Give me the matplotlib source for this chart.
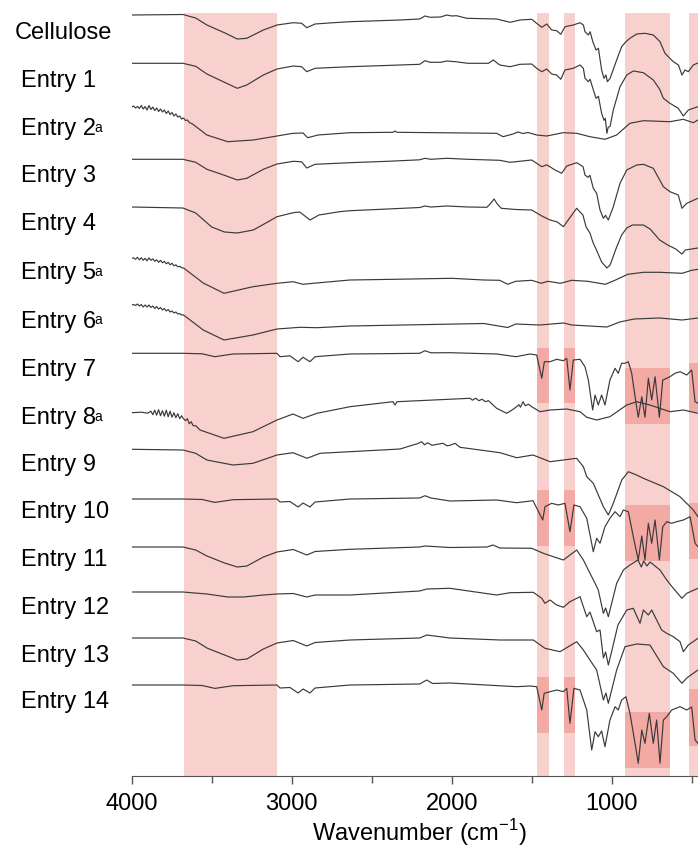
import numpy as np
import matplotlib.pyplot as plt
from matplotlib.patches import Rectangle

plt.rcParams['font.family'] = ['Liberation Sans', 'DejaVu Sans']

## labels of the stacked spectra, top to bottom
labels = ['Cellulose', 'Entry 1', 'Entry 2', 'Entry 3', 'Entry 4', 'Entry 5', 'Entry 6',
          'Entry 7', 'Entry 8', 'Entry 9', 'Entry 10', 'Entry 11', 'Entry 12', 'Entry 13', 'Entry 14']
footnote = [False, False, True, False, False, True, True, False, True, False, False, False, False, False, False]

## vertical stacking offset of each trace (level at 4000 cm-1)
offsets = [15, 63.3, 107, 159.3, 207, 258.3, 305, 353.3, 412.7, 449.3, 499, 547, 592, 638, 685]

## spectra: (wavenumber, relative signal)
cellulose = [(4000, 0), (3680, 0.5), (3600, -3), (3530, -10), (3417, -18), (3340, -24), (3281, -23.3), (3177, -15),
             (3092, -10), (2990, -7.7), (2938, -8.3), (2906, -12.7), (2854, -9), (2740, -7.7), (2636, -6.7),
             (2323, -5), (2200, -4), (2167, -1), (2135, -2.3), (2070, -2), (2030, 0), (2000, -1), (1970, -0.7),
             (1906, -3.3), (1719, -4), (1635, -7.3), (1573, -5), (1500, -4.3), (1469, -8.3), (1437, -12.3),
             (1406, -9), (1375, -15), (1344, -15.7), (1318, -19.3), (1292, -11.7), (1240, -10), (1198, -7.7),
             (1177, -10), (1167, -16.7), (1146, -20), (1135, -16.7), (1118, -26.7), (1098, -35), (1083, -33.3),
             (1063, -55), (1048, -63.3), (1036, -60), (1027, -66.7), (1010, -63.3), (969, -45), (938, -31.7),
             (911, -26.7), (886, -23.3), (844, -19), (792, -18.3), (740, -20), (698, -26.7), (667, -38.3),
             (646, -41.7), (615, -46.7), (583, -50), (561, -60), (542, -55), (521, -56.7), (490, -50),
             (448, -47), (400, -45)]

entry1 = [(4000, 0), (3680, 0), (3600, -3), (3530, -10.7), (3420, -19), (3340, -25), (3281, -21.7), (3177, -11.7),
          (3092, -5.7), (2990, -2.7), (2938, -3.4), (2906, -8.4), (2854, -5), (2636, -3.4), (2323, -1.7),
          (2200, -1), (2167, 2.6), (2135, 1), (2070, 1), (2030, 2.3), (1970, 1.5), (1900, 0), (1770, 0),
          (1740, 3.3), (1700, -1.7), (1635, -3.4), (1573, -1), (1500, -0.7), (1469, -5), (1437, -8.4),
          (1406, -5.7), (1375, -10.7), (1344, -11.7), (1318, -16), (1292, -6.7), (1240, -5), (1198, -1.7),
          (1177, -5), (1167, -15), (1146, -18.4), (1135, -16), (1118, -25), (1098, -35), (1083, -33),
          (1063, -50), (1048, -57), (1040, -55), (1030, -70), (1022, -64), (1010, -63), (990, -46.7),
          (948, -23.4), (906, -11.7), (865, -7.7), (802, -9.4), (740, -16.7), (700, -26), (677, -35),
          (636, -40), (584, -45), (552, -52.7), (521, -46.7), (461, -43.4), (400, -42)]

entry2 = [(4000, 0), (3988, 1), (3976, -1), (3964, 0.5), (3952, -1.5), (3940, 1.5), (3928, -2), (3916, 0.5),
          (3904, -3), (3892, 1.5), (3880, -2.5), (3868, 0), (3856, -3.5), (3844, -1), (3832, -4.5),
          (3820, -2), (3808, -5), (3796, -3), (3784, -6.5), (3772, -4), (3760, -7.5), (3748, -5.5),
          (3736, -9), (3724, -7), (3712, -10), (3700, -9), (3688, -12), (3676, -11), (3664, -13.5),
          (3652, -13), (3640, -15.5), (3620, -17), (3530, -28), (3400, -34.7), (3240, -33), (3092, -29),
          (2992, -26.3), (2929, -26), (2900, -30.7), (2835, -28), (2636, -25.7), (2367, -25.3), (2354, -24),
          (2342, -25.3), (1719, -26.3), (1679, -29.7), (1617, -27), (1586, -25), (1554, -26.5), (1523, -25.5),
          (1469, -28), (1406, -29), (1304, -25.7), (1219, -26.3), (1136, -29.7), (1042, -32.3), (969, -28),
          (886, -16.3), (802, -13.7), (636, -14.7), (552, -12.3), (490, -15.7), (461, -13), (400, -14)]

entry3 = [(4000, 0), (3680, 0), (3600, -3), (3530, -10), (3420, -16), (3340, -20.7), (3281, -19), (3177, -10),
          (3092, -4.7), (2990, -2), (2938, -2.5), (2906, -8.7), (2854, -5), (2636, -3.4), (2400, -2),
          (2200, -0.5), (2167, 1), (2130, 0), (2030, 1), (1900, 0), (1700, -1), (1635, -3), (1500, -0.7),
          (1469, -4), (1437, -7.4), (1406, -5.5), (1354, -10.7), (1313, -14), (1281, -6.7), (1219, -3.4),
          (1179, -7.4), (1167, -15.7), (1148, -18), (1136, -16), (1115, -29), (1094, -34), (1073, -50.7),
          (1052, -59), (1039, -56), (1021, -60.7), (990, -47.4), (948, -24), (906, -10.7), (844, -5.7),
          (802, -5), (740, -9), (677, -27.4), (636, -32.4), (584, -35.7), (561, -49), (531, -44),
          (461, -39), (400, -38)]

entry4 = [(4000, 0), (3680, -1), (3600, -6), (3500, -20), (3420, -25), (3340, -26), (3240, -23), (3150, -15),
          (3092, -9.7), (2990, -5.7), (2950, -5), (2885, -13), (2830, -8), (2700, -4.7), (2636, -3.7),
          (2400, -2), (2200, -0.5), (2167, 1), (2130, 0), (2030, 1), (1900, 0), (1780, -0.3), (1760, 3),
          (1735, 8), (1715, 3), (1690, -1.3), (1600, -2.5), (1500, -3), (1437, -9), (1385, -13), (1340, -15),
          (1302, -19.7), (1219, -1.3), (1180, -8), (1160, -20), (1136, -26), (1118, -35), (1098, -42),
          (1063, -55), (1030, -61), (1010, -58), (969, -40), (938, -28), (906, -21), (870, -18), (802, -18),
          (760, -22), (700, -33), (650, -38), (600, -42), (561, -47), (540, -43), (461, -41), (400, -40)]

entry5 = [(4000, 0), (3988, 0.5), (3976, -1), (3964, 1), (3952, -1.5), (3940, 0.5), (3928, -2), (3916, 0),
          (3904, -2.5), (3892, 0.5), (3880, -2), (3868, -0.5), (3856, -3), (3844, -1.5), (3832, -4),
          (3820, -2), (3808, -4.5), (3796, -3), (3784, -5.5), (3772, -4), (3760, -6.5), (3748, -5),
          (3736, -7.5), (3724, -6.5), (3712, -8.5), (3700, -8), (3688, -9.5), (3676, -9.7), (3553, -24.7),
          (3423, -35), (3242, -28.4), (3092, -25), (2992, -23.4), (2929, -26), (2867, -25), (2636, -21.7),
          (2360, -21), (2000, -20), (1800, -21.7), (1700, -22), (1650, -26), (1600, -23), (1500, -22),
          (1440, -25), (1400, -23), (1320, -25), (1250, -22), (1150, -23), (1040, -26), (980, -22),
          (900, -16), (800, -14), (700, -14), (560, -15), (500, -12), (460, -11), (400, -11)]

entry6 = [(4000, 0), (3988, 0.5), (3976, -0.5), (3964, 1), (3952, -1), (3940, 0.5), (3928, -2), (3916, 0),
          (3904, -2), (3892, 0), (3880, -2.5), (3868, -1), (3856, -3.5), (3844, -1.5), (3832, -4),
          (3820, -2.5), (3808, -5), (3796, -3.5), (3784, -6), (3772, -4.5), (3760, -7), (3748, -6),
          (3736, -8), (3724, -7), (3712, -9), (3700, -8.5), (3688, -10), (3676, -10), (3553, -25),
          (3423, -35), (3242, -30), (3092, -24), (2948, -22.3), (2842, -22.7), (2636, -21), (1800, -18.5),
          (1650, -22.5), (1600, -19), (1450, -20), (1300, -18), (1250, -20), (1030, -22), (950, -17),
          (860, -14), (700, -13), (560, -15), (460, -13), (400, -13)]

entry7 = [(4000, 0), (3680, 0), (3560, -0.5), (3480, -3.4), (3367, -0.7), (3092, 0), (3073, -3.4),
          (3011, -2.5), (2960, -8.4), (2929, -4), (2886, -8.4), (2854, -3.4), (2636, -0.7), (2200, 0),
          (2167, 2.6), (2130, 0.5), (2011, 0.6), (1719, -0.7), (1598, -3.4), (1511, -0.7), (1469, -1.7),
          (1437, -25), (1421, -8.4), (1385, -8.4), (1344, -6), (1302, -7.4), (1281, -5), (1261, -36.7),
          (1240, -6.7), (1198, -6), (1167, -13.4), (1146, -26.7), (1119, -56.7), (1104, -41.7), (1084, -51.7),
          (1063, -41.7), (1042, -51.7), (1011, -26.7), (979, -15), (959, -20), (938, -10), (917, -10),
          (896, -8.4), (875, -20), (854, -43.4), (834, -64), (812, -43.4), (792, -64), (771, -25),
          (750, -46.7), (729, -23.4), (702, -64), (681, -26.7), (656, -25), (636, -23.4), (604, -20),
          (573, -18.4), (531, -21.7), (500, -16.7), (479, -48.4), (461, -50), (400, -48)]

entry8 = [(4000, 0), (3940, 0.5), (3900, -0.5), (3880, 1.5), (3868, -2), (3856, 2.5), (3844, -2.5),
          (3832, 3), (3820, -3), (3808, 2), (3796, -3.5), (3784, 2.5), (3772, -4), (3760, 1.5), (3748, -4.5),
          (3736, 0), (3724, -5), (3712, -1), (3700, -6), (3688, -3), (3680, -5.3), (3664, -8), (3652, -6),
          (3640, -11), (3628, -9), (3616, -13), (3600, -13), (3573, -17.3), (3423, -25.6), (3242, -19),
          (3092, -7.3), (2992, -1.3), (2929, -5.6), (2842, -0.6), (2636, 6), (2367, 11), (2354, 7.7),
          (2342, 11), (1886, 14.4), (1870, 12.5), (1850, 14.5), (1830, 12), (1810, 13.5), (1790, 11),
          (1770, 12), (1750, 9), (1719, 4.4), (1656, -0.6), (1620, 3), (1594, 6), (1580, 8), (1570, 5.5),
          (1554, 11), (1540, 7), (1520, 8.5), (1500, 6), (1448, 1), (1385, 2.7), (1281, 3.7), (1198, 1),
          (1156, -4.6), (1094, -7.3), (1011, -4), (906, 7.7), (844, 11), (761, 7.7), (636, 1), (552, 2.7),
          (461, -0.6), (400, -1)]

entry9 = [(4000, 0), (3680, -0.7), (3600, -4), (3530, -10.7), (3367, -15.7), (3242, -14), (3092, -5.7), (2992, -3.4),
          (2904, -9), (2823, -4), (2636, -2.4), (2323, 0.3), (2242, 4.3), (2215, 5.5), (2188, 7.6),
          (2170, 4.5), (2150, 6.5), (2123, 4), (2090, 5), (2054, 6), (2030, 3.5), (2011, 4), (1979, 6),
          (1948, 2), (1698, -3.4), (1594, -8.4), (1492, -5.7), (1385, -12.4), (1302, -10.7), (1219, -9),
          (1177, -17.4), (1156, -27.4), (1115, -34), (1052, -57.4), (1021, -65.7), (990, -54), (937, -30.7),
          (896, -22.4), (844, -25.7), (802, -29), (677, -37.4), (573, -47.4), (490, -60.7), (461, -67.4),
          (400, -72)]

entry10 = [(4000, 0), (3680, 0), (3560, -0.5), (3480, -3.4), (3367, -0.7), (3092, 0), (3073, -3),
           (3011, -2.5), (2960, -8), (2929, -4), (2886, -8), (2854, -3), (2636, 0), (2200, 1), (2167, 3.3),
           (2130, 1), (2011, -2), (1719, -1), (1594, -3.7), (1492, -1.7), (1431, -21), (1417, -7.7),
           (1375, -4.3), (1334, -6), (1292, -4.3), (1261, -32.7), (1236, -6), (1198, -7.7), (1156, -19.3),
           (1115, -52.7), (1094, -39.3), (1073, -44.3), (1042, -27.7), (1011, -19.3), (979, -12.7),
           (948, -17.7), (927, -11), (896, -12.7), (865, -37.7), (834, -61), (812, -37), (792, -61),
           (771, -24.3), (750, -44.3), (729, -21), (702, -61), (681, -27.7), (656, -22.7), (625, -24.3),
           (594, -22.7), (552, -21), (510, -17.7), (479, -44.3), (461, -47.7), (400, -46)]

entry11 = [(4000, 0), (3680, 0), (3600, -3), (3530, -9), (3420, -16), (3340, -20), (3280, -19), (3177, -10),
           (3092, -5), (2990, -2.5), (2906, -8), (2854, -4.5), (2636, -2.3), (2200, 0), (2167, 1),
           (2011, -0.5), (1780, 0), (1742, 2), (1700, -1), (1500, -1.3), (1427, -6.3), (1365, -9.7),
           (1302, -13), (1219, -3), (1177, -13), (1146, -23), (1104, -36.3), (1084, -43), (1052, -66.3),
           (1038, -61), (1021, -69.7), (969, -36.3), (927, -23), (886, -18), (836, -13), (815, -20),
           (800, -14), (780, -19), (760, -15), (698, -23), (656, -33), (615, -41.3), (561, -51.3),
           (531, -46.3), (461, -41.3), (400, -40)]

entry12 = [(4000, 0), (3680, 0), (3530, -2), (3400, -5), (3300, -5), (3177, -3), (3092, -2),
           (2990, -1.5), (2906, -5), (2854, -3), (2636, -3), (2200, 1), (2156, 3), (2011, 3.7), (1719, -3),
           (1635, -0.7), (1490, -0.3), (1437, -6.3), (1417, -11.3), (1385, -8), (1344, -13), (1302, -15.3),
           (1261, -9.7), (1198, -4.7), (1156, -24.7), (1136, -20), (1094, -39.7), (1073, -38), (1052, -66),
           (1038, -60), (1021, -73), (998, -58), (961, -33), (906, -18), (865, -16.3), (823, -31.3),
           (802, -18), (771, -23), (750, -18), (719, -28), (688, -38), (656, -41.3), (615, -44.7),
           (573, -49.7), (552, -59.7), (521, -53), (461, -46.3), (400, -45)]

entry13 = [(4000, 0), (3680, 0), (3600, -3), (3530, -10), (3420, -17), (3340, -22), (3280, -21), (3177, -11),
           (3092, -5), (2990, -2.5), (2906, -8), (2854, -4.5), (2636, -2), (2200, 0), (2156, 3), (2011, 0),
           (1698, -2), (1490, -2), (1417, -10.3), (1323, -13.7), (1219, -3.7), (1177, -12), (1136, -22),
           (1094, -32), (1052, -62), (1036, -55), (1021, -65.3), (969, -32), (917, -8.7), (844, -6),
           (761, -7), (677, -28.7), (615, -35.3), (561, -45.3), (531, -40), (461, -32), (400, -31)]

entry14 = [(4000, 0), (3680, 0), (3560, -0.5), (3480, -3.4), (3367, -0.7), (3092, 0), (3073, -3),
           (3011, -2.5), (2960, -8), (2929, -4), (2886, -8), (2854, -3), (2636, 0), (2200, 1), (2156, 5),
           (2120, 1.5), (2011, 2), (1594, -1.7), (1511, -1), (1469, -1.7), (1437, -25), (1422, -8.3),
           (1385, -6.7), (1344, -5), (1302, -6.7), (1281, -3.3), (1261, -38.3), (1236, -3.3), (1198, -5),
           (1156, -25), (1125, -65), (1104, -46.7), (1084, -51.7), (1063, -46), (1042, -61.7), (1011, -35),
           (979, -21.7), (959, -25), (938, -15), (911, -11.7), (886, -28.3), (854, -58.3), (834, -78.3),
           (812, -45), (792, -58.3), (765, -28.3), (740, -58.3), (719, -35), (698, -78.3), (677, -35),
           (656, -31.7), (625, -25), (573, -21.7), (531, -25), (500, -22), (479, -55), (461, -58.3),
           (400, -56)]

spectra = [cellulose, entry1, entry2, entry3, entry4, entry5, entry6, entry7,
           entry8, entry9, entry10, entry11, entry12, entry13, entry14]

## highlighted wavenumber regions
bands = [(3673, 3092), (1465, 1392), (1300, 1229), (915, 633), (517, 400)]
## darker boxes: (trace index, band index, top, bottom) in stacking units
boxes = [(7, 1, 348, 403), (7, 2, 348, 403), (7, 3, 368, 424), (7, 4, 363, 412),
         (10, 1, 490, 546), (10, 2, 490, 546), (10, 3, 505, 561), (10, 4, 503, 559),
         (14, 1, 677, 733), (14, 2, 677, 733), (14, 3, 712, 768), (14, 4, 689, 746)]

W, H = 698, 848
fig = plt.figure(figsize=(W / 100, H / 100), dpi=100)
ax = fig.add_axes([131.7 / W, 1 - 776 / H, (707.7 - 131.7) / W, (776 - 13) / H])

for lo, hi in bands:
    ax.axvspan(lo, hi, color='#f8d0ce', lw=0, zorder=0)
for k, b, top, bot in boxes:
    lo, hi = bands[b]
    ax.add_patch(Rectangle((hi, -bot), lo - hi, bot - top, color='#f4aaa4', lw=0, zorder=1))

for off, spec in zip(offsets, spectra):
    wn = np.array([p[0] for p in spec])
    sig = np.array([p[1] for p in spec])
    ax.plot(wn, sig - off, color='#3a3a3a', lw=0.85, zorder=3)

ax.set_xlim(4000, 400)
ax.set_ylim(-776, -13)
for s in ['left', 'right', 'top']:
    ax.spines[s].set_visible(False)
ax.spines['bottom'].set_color('#555555')
ax.set_yticks([])
ax.set_xticks([4000, 3000, 2000, 1000])
ax.set_xticks([3500, 2500, 1500, 500], minor=True)
ax.tick_params(axis='x', which='major', direction='out', length=6, width=1, color='#555555',
               labelsize=17, pad=6.5)
ax.tick_params(axis='x', which='minor', direction='out', length=5, width=1, color='#555555')
ax.set_xlabel('Wavenumber (cm$^{\\mathregular{-1}}$)', fontsize=17, labelpad=1)

## entry labels on the left
baselines = [39.3, 87.3, 135, 181.7, 230, 279.3, 327.7, 376, 424, 470.7, 518, 566, 614, 662, 708]
for lab, fn, yb in zip(labels, footnote, baselines):
    x0 = 15 if lab == 'Cellulose' else 21
    t = fig.text(x0 / W, 1 - yb / H, lab, fontsize=17, va='baseline', ha='left')
    if fn:
        ax.annotate('a', xy=(1, 0), xycoords=t, xytext=(-1, 6), textcoords='offset points',
                    fontsize=10, va='baseline', ha='left', annotation_clip=False)

fig.savefig('out.png', dpi=100)
